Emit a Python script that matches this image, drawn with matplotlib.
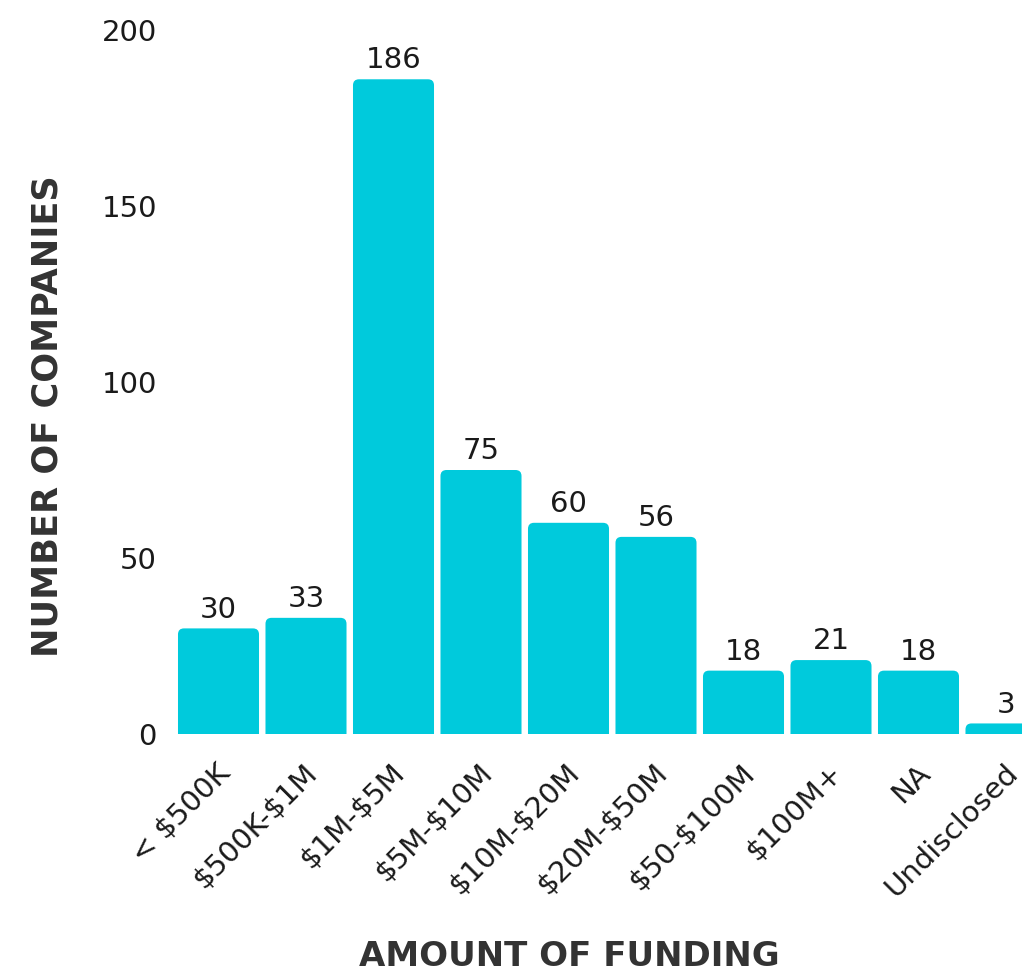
import matplotlib
matplotlib.use('Agg')
import matplotlib.pyplot as plt
from matplotlib.patches import FancyBboxPatch
import matplotlib.transforms as mtransforms

categories = ['< $500K', '$500K-$1M', '$1M-$5M', '$5M-$10M', '$10M-$20M',
              '$20M-$50M', '$50-$100M', '$100M+', 'NA', 'Undisclosed']
counts = [30, 33, 186, 75, 60, 56, 18, 21, 18, 3]
yticks = [0, 50, 100, 150, 200]
y_title = 'NUMBER OF COMPANIES'
x_title = 'AMOUNT OF FUNDING'

BAR = '#00CADC'
TXT = '#1a1a1a'
LAB = '#333333'

plt.rcParams['font.family'] = ['DejaVu Sans']
plt.rcParams['text.parse_math'] = False

W, H = 1022, 975
fig = plt.figure(figsize=(W / 100, H / 100), dpi=100)
ax = fig.add_axes([174.75 / W, 241 / H, 875 / W, 704 / H])

x = list(range(len(counts)))
bars = ax.bar(x, counts, width=0.926, color=BAR)
ax.set_xlim(-0.5, 9.5)
ax.set_ylim(0, 200)

# rounded tops
px_x = 875 / 10.0
px_y = 704 / 200.0
r_px = 6
aspect = px_x / px_y
for rect in bars:
    bx, bw, bh = rect.get_x(), rect.get_width(), rect.get_height()
    rect.set_visible(False)
    ext = 3
    p = FancyBboxPatch((bx, -ext), bw, bh + ext,
                       boxstyle=f"round,pad=0,rounding_size={r_px / px_x}",
                       mutation_aspect=aspect, fc=BAR, ec='none')
    ax.add_patch(p)

ax.bar_label(bars, labels=[str(v) for v in counts], padding=3.5,
             fontsize=21, color=TXT)

for s in ax.spines.values():
    s.set_visible(False)

ax.set_yticks(yticks)
ax.set_yticklabels([str(v) for v in yticks])
ax.tick_params(axis='y', length=0, pad=12.8, labelsize=21, labelcolor=TXT)
ax.set_xticks(x)
ax.set_xticklabels(categories, rotation=45, ha='right', va='baseline',
                   rotation_mode='anchor')
ax.tick_params(axis='x', length=0, pad=29, labelsize=21, labelcolor=TXT)
offset = mtransforms.ScaledTranslation(13 / 100, 0, fig.dpi_scale_trans)
for lab in ax.get_xticklabels():
    lab.set_transform(lab.get_transform() + offset)

ax.set_ylabel(y_title, fontsize=25.3, fontweight='bold', color=LAB)
ax.yaxis.set_label_coords(48 / W, (H - 416) / H, transform=fig.transFigure)
ax.yaxis.label.set_va('center')

ax.set_xlabel(x_title, fontsize=24.5, fontweight='bold', color=LAB)
ax.xaxis.set_label_coords(569 / W, 9 / H, transform=fig.transFigure)
ax.xaxis.label.set_va('baseline')

fig.savefig('out.png', dpi=100, facecolor='white')
